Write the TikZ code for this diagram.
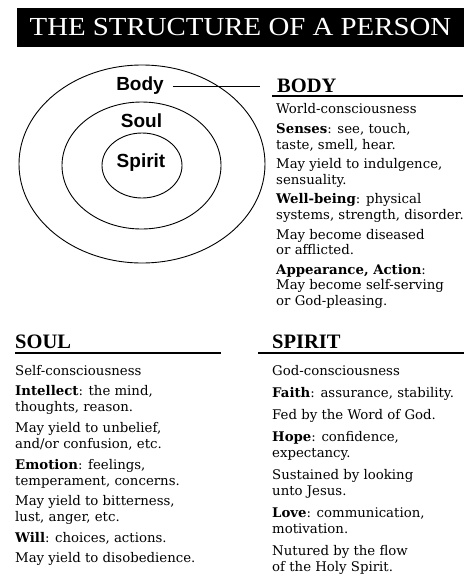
\documentclass[tikz,border=0pt]{standalone}
\usepackage{fontspec}
\setmainfont{DejaVu Serif}
\newfontfamily\titlefont[FakeStretch=1.11]{Liberation Serif}
\newfontfamily\headfont{Liberation Serif}
\newfontfamily\ringfont{Liberation Sans}
\usetikzlibrary{positioning,shapes.geometric}

\begin{document}
\begin{tikzpicture}[
    x=1pt, y=-1pt,
    titlebar/.style={rectangle, fill=black, text=white, minimum width=447pt, minimum height=39pt,
        font=\titlefont\fontsize{26}{30}\selectfont},
    ring/.style={ellipse, draw, line width=0.9pt, inner sep=0pt},
    ringlabel/.style={inner sep=2pt, font=\ringfont\bfseries\fontsize{19}{22}\selectfont},
    heading/.style={anchor=base west, inner sep=0pt, font=\headfont\bfseries\fontsize{20.5}{24}\selectfont},
    rule/.style={line width=1.3pt},
    para/.style={anchor=north west, inner sep=0pt, align=left, font=\fontsize{13.3}{15.5}\selectfont}
]
    \useasboundingbox (0,0) rectangle (474,582);

    % title
    \node[titlebar] (title) at (240.5,27.5) {THE STRUCTURE OF A PERSON};

    % rings
    \node[ring, minimum width=246pt, minimum height=198pt] (outer) at (142,164) {};
    \node[ring, minimum width=159pt, minimum height=127pt] (middle) at (141.5,165.5) {};
    \node[ring, minimum width=80pt, minimum height=65pt] (inner) at (142,165.5) {};
    \node[ringlabel] (bodylbl) at (140,86) {Body};
    \node[ringlabel] (soullbl) at (141.5,121) {Soul};
    \node[ringlabel] (spiritlbl) at (141,163) {Spirit};
    \coordinate (bodytip) at (260,86);
    \draw[line width=0.9pt] ([xshift=7pt]bodylbl.east) -- (bodytip);

    % body
    \node[heading] (bodyhead) at (277,92) {BODY};
    \draw[rule] (272,96) -- (463,96);
    \node[para] (bodytxt) at ([xshift=-1pt,yshift=-11.5pt]bodyhead.base west) {%
        World-consciousness\\[4.2pt]
        \textbf{Senses}: see, touch,\\
        taste, smell, hear.\\[4.2pt]
        May yield to indulgence,\\
        sensuality.\\[4.2pt]
        \textbf{Well-being}: physical\\
        systems, strength, disorder.\\[4.2pt]
        May become diseased\\
        or afflicted.\\[4.2pt]
        \textbf{Appearance, Action}:\\
        May become self-serving\\
        or God-pleasing.};

    % soul
    \node[heading] (soulhead) at (15,348) {SOUL};
    \draw[rule] (15,353) -- (221,353);
    \node[para, font=\fontsize{13.3}{16}\selectfont] (soultxt) at ([yshift=-17pt]soulhead.base west) {%
        Self-consciousness\\[4.6pt]
        \textbf{Intellect}: the mind,\\
        thoughts, reason.\\[4.6pt]
        May yield to unbelief,\\
        and/or confusion, etc.\\[4.6pt]
        \textbf{Emotion}: feelings,\\
        temperament, concerns.\\[4.6pt]
        May yield to bitterness,\\
        lust, anger, etc.\\[4.6pt]
        \textbf{Will}: choices, actions.\\[4.6pt]
        May yield to disobedience.};

    % spirit
    \node[heading] (spirithead) at (272,348) {SPIRIT};
    \draw[rule] (258,353) -- (464,353);
    \node[para, font=\fontsize{13.3}{16.2}\selectfont] (spirittxt) at ([yshift=-17pt]spirithead.base west) {%
        God-consciousness\\[5.7pt]
        \textbf{Faith}: assurance, stability.\\[5.7pt]
        Fed by the Word of God.\\[5.7pt]
        \textbf{Hope}: confidence,\\
        expectancy.\\[5.7pt]
        Sustained by looking\\
        unto Jesus.\\[5.7pt]
        \textbf{Love}: communication,\\
        motivation.\\[5.7pt]
        Nutured by the flow\\
        of the Holy Spirit.};
\end{tikzpicture}
\end{document}
